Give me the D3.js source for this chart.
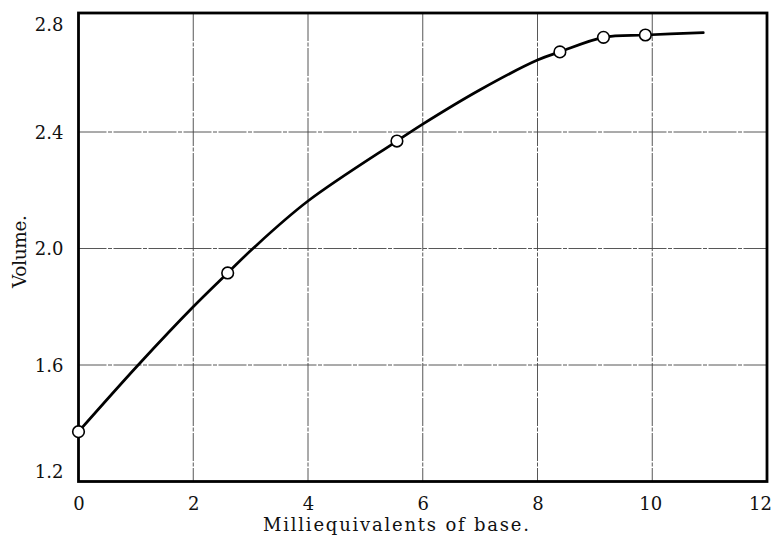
<!DOCTYPE html>
<html>
<head>
<meta charset="utf-8">
<script src="https://cdn.jsdelivr.net/npm/d3@7"></script>
<style>
  html, body { margin: 0; padding: 0; background: #fff; }
  svg { display: block; }
  text { font-family: "DejaVu Serif", "Liberation Serif", serif; fill: #111; }
</style>
</head>
<body>
<svg id="chart" width="772" height="544"></svg>
<script>
// ---- data ----
const xTicks = [0, 2, 4, 6, 8, 10, 12];
const yTicks = [1.2, 1.6, 2.0, 2.4, 2.8];
const yTickLabels = ["1.2", "1.6", "2.0", "2.4", "2.8"];
// measured points (open circles)
const pointX = [0, 2.6, 5.55, 8.39, 9.15, 9.88];
const pointY = [1.371, 1.916, 2.369, 2.675, 2.725, 2.733];
// smooth drawn curve
const curveX = [0, 1.04, 2.0, 2.6, 3.04, 4.0, 5.55, 6.0, 7.0, 8.0, 8.39, 9.15, 9.88, 10.89];
const curveY = [1.371, 1.6, 1.800, 1.916, 2.0, 2.163, 2.369, 2.427, 2.545, 2.647, 2.675, 2.725, 2.733, 2.741];
const xLabel = "Milliequivalents of base.";
const yLabel = "Volume.";

// ---- layout ----
const svg = d3.select("#chart");
const mLeft = 78.5, mRight = 767, mTop = 13, mBottom = 481.5;
const x = d3.scaleLinear().domain([0, 12]).range([mLeft, mRight]);
const y = d3.scaleLinear().domain([1.2, 2.8]).range([481.5, 15.5]);
const FONT = "DejaVu Serif, Liberation Serif, serif";

// grid lines
const grid = svg.append("g").attr("stroke", "#444").attr("stroke-width", 0.9)
  .attr("stroke-dasharray", "28 1.5 4 1.5");
grid.selectAll("line.v").data(xTicks.filter(d => d > 0 && d < 12)).join("line")
  .attr("class", "v")
  .attr("x1", d => x(d)).attr("x2", d => x(d))
  .attr("y1", mTop).attr("y2", mBottom);
grid.selectAll("line.h").data(yTicks.filter(d => d > 1.2 && d < 2.8)).join("line")
  .attr("class", "h")
  .attr("x1", mLeft).attr("x2", mRight)
  .attr("y1", d => y(d)).attr("y2", d => y(d));

// frame
svg.append("rect")
  .attr("x", mLeft).attr("y", mTop)
  .attr("width", mRight - mLeft).attr("height", mBottom - mTop)
  .attr("fill", "none").attr("stroke", "#000").attr("stroke-width", 2.8);

// x axis labels
const xAxis = d3.axisBottom(x).tickValues(xTicks).tickSize(0).tickPadding(0)
  .tickFormat(d3.format("d"));
const gx = svg.append("g").attr("transform", `translate(0,${mBottom})`).call(xAxis);
gx.select(".domain").remove();
gx.selectAll("text").attr("font-size", 18).attr("dy", null)
  .attr("y", 28)
  .attr("dx", d => d === 12 ? -7 : (d === 10 ? -2 : 0))
  .style("font-family", FONT).attr("fill", "#111");

// y axis labels
const yAxis = d3.axisLeft(y).tickValues(yTicks).tickSize(0).tickPadding(0)
  .tickFormat((d, i) => yTickLabels[i]);
const gy = svg.append("g").attr("transform", `translate(${mLeft - 15},0)`).call(yAxis);
gy.select(".domain").remove();
gy.selectAll("text").attr("font-size", 18)
  .style("font-family", FONT).attr("fill", "#111")
  .attr("dy", (d, i) => i === 0 ? "-0.2em" : (i === yTicks.length - 1 ? "0.85em" : "0.34em"));

// curve
const curveData = curveX.map((v, i) => [v, curveY[i]]);
svg.append("path")
  .datum(curveData)
  .attr("fill", "none").attr("stroke", "#000").attr("stroke-width", 2.7)
  .attr("stroke-linecap", "round")
  .attr("d", d3.line().x(d => x(d[0])).y(d => y(d[1])).curve(d3.curveCatmullRom.alpha(0.5)));

// points
svg.append("g").selectAll("circle")
  .data(pointX.map((v, i) => [v, pointY[i]]))
  .join("circle")
  .attr("cx", d => x(d[0])).attr("cy", d => y(d[1]))
  .attr("r", 5.8).attr("fill", "#fff").attr("stroke", "#000").attr("stroke-width", 1.6);

// axis titles
svg.append("text")
  .attr("x", 396).attr("y", 531)
  .attr("text-anchor", "middle").attr("font-size", 18)
  .attr("textLength", 266).attr("lengthAdjust", "spacing")
  .text(xLabel);
svg.append("text")
  .attr("transform", "translate(25.5,251.5) rotate(-90)")
  .attr("text-anchor", "middle").attr("font-size", 18.5)
  .attr("textLength", 73).attr("lengthAdjust", "spacing")
  .text(yLabel);
</script>
</body>
</html>
